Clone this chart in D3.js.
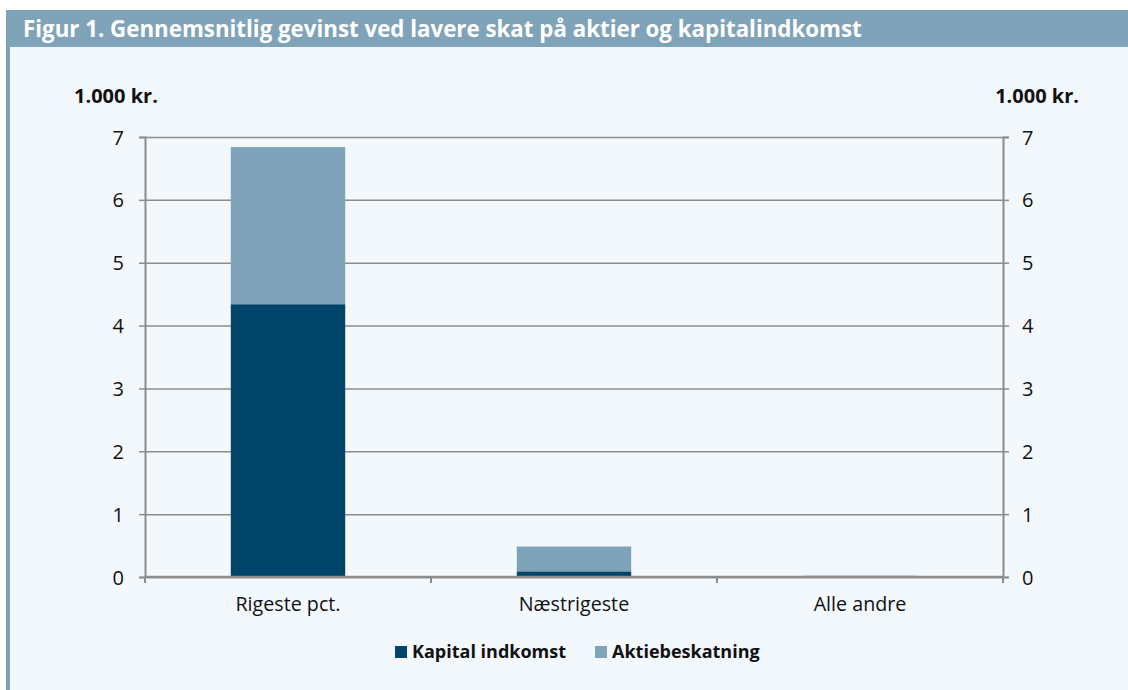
<!DOCTYPE html>
<html>
<head>
<meta charset="utf-8">
<script src="https://cdn.jsdelivr.net/npm/d3@7"></script>
<style>
  body { margin: 0; background: #fff; }
  svg { display: block; font-family: "Open Sans", Lato, sans-serif; }
  .unit { font-size: 20px; font-weight: bold; fill: #111; }
  .legend text { font-size: 18px; font-weight: bold; fill: #111; }
</style>
</head>
<body>
<svg width="1128" height="690"></svg>
<script>
  const categories = ['Rigeste pct.', 'Næstrigeste', 'Alle andre'];
  const kapital = [4.34, 0.09, 0.0];
  const aktie = [2.50, 0.395, 0.02];
  const seriesNames = ['Kapital indkomst', 'Aktiebeskatning'];
  const colors = ['#02456b', '#7fa3b8'];
  const yTicks = [0, 1, 2, 3, 4, 5, 6, 7];
  const title = 'Figur 1. Gennemsnitlig gevinst ved lavere skat på aktier og kapitalindkomst';
  const unitLabel = '1.000 kr.';

  const svg = d3.select('svg');
  const width = +svg.attr('width');
  const height = +svg.attr('height');

  // frame + header bar
  svg.append('rect').attr('x', 6).attr('y', 10).attr('width', width - 6).attr('height', height - 10)
    .attr('fill', '#f3f8fd');
  svg.append('rect').attr('x', 6).attr('y', 10).attr('width', 4).attr('height', height - 10)
    .attr('fill', '#7fa3b8');
  svg.append('rect').attr('x', 6).attr('y', 10).attr('width', width - 6).attr('height', 37)
    .attr('fill', '#7fa3b8');
  svg.append('text').attr('x', 23).attr('y', 37)
    .attr('fill', '#fff').attr('font-size', 22.3).attr('font-weight', 'bold')
    .text(title);

  const margin = {top: 137, right: 125, bottom: 113, left: 145};
  const innerWidth = width - margin.left - margin.right;
  const innerHeight = height - margin.top - margin.bottom;

  const g = svg.append('g').attr('transform', `translate(${margin.left},${margin.top})`);

  const xScale = d3.scaleBand().domain(categories).range([0, innerWidth]).padding(0);
  const yScale = d3.scaleLinear().domain([0, 7]).range([innerHeight, 0]);

  const data = categories.map((c, i) => ({cat: c, kapital: kapital[i], aktie: aktie[i]}));
  const stacked = d3.stack().keys(['kapital', 'aktie'])(data);

  // gridlines
  g.append('g')
    .call(d3.axisLeft(yScale).tickValues(yTicks).tickSize(-innerWidth).tickFormat(''))
    .call(a => a.select('.domain').remove())
    .call(a => a.selectAll('line').attr('stroke', '#8c8c8c').attr('stroke-width', 1.5));

  // bars
  const barW = xScale.bandwidth() * 0.4;
  stacked.forEach((s, k) => {
    g.append('g').selectAll('rect').data(s).join('rect')
      .attr('x', d => xScale(d.data.cat) + (xScale.bandwidth() - barW) / 2)
      .attr('y', d => yScale(d[1]))
      .attr('width', barW)
      .attr('height', d => yScale(d[0]) - yScale(d[1]))
      .attr('fill', colors[k]);
  });

  const styleAxis = a => {
    a.attr('font-size', 20).attr('font-family', null);
    a.select('.domain').attr('stroke', '#8c8c8c').attr('stroke-width', 2);
    a.selectAll('line').attr('stroke', '#8c8c8c').attr('stroke-width', 1.5);
    a.selectAll('text').attr('fill', '#111').attr('dy', null).attr('y', 7);
  };

  // left axis
  g.append('g')
    .call(d3.axisLeft(yScale).tickValues(yTicks).tickFormat(d3.format('d')).tickSize(6).tickPadding(15))
    .call(styleAxis);

  // right axis
  g.append('g').attr('transform', `translate(${innerWidth},0)`)
    .call(d3.axisRight(yScale).tickValues(yTicks).tickFormat(d3.format('d')).tickSize(6).tickPadding(13))
    .call(styleAxis);

  // x axis with boundary ticks
  const xAxisG = g.append('g').attr('transform', `translate(0,${innerHeight})`);
  xAxisG.append('line').attr('x1', 0).attr('x2', innerWidth)
    .attr('stroke', '#8c8c8c').attr('stroke-width', 2.5);
  const bounds = categories.map(c => xScale(c)).concat([innerWidth]);
  xAxisG.selectAll('.btick').data(bounds).join('line')
    .attr('x1', d => d).attr('x2', d => d).attr('y1', 0).attr('y2', 6)
    .attr('stroke', '#8c8c8c').attr('stroke-width', 2);
  xAxisG.selectAll('.xlab').data(categories).join('text')
    .attr('x', d => xScale(d) + xScale.bandwidth() / 2)
    .attr('y', 34)
    .attr('text-anchor', 'middle')
    .attr('font-size', 19.7).attr('fill', '#111')
    .text(d => d);

  // unit labels
  svg.append('text').attr('class', 'unit').attr('x', 74).attr('y', 103).text(unitLabel);
  svg.append('text').attr('class', 'unit').attr('x', 1079).attr('y', 103)
    .attr('text-anchor', 'end').text(unitLabel);

  // legend
  const legend = svg.append('g').attr('class', 'legend');
  const legendX = [395, 595];
  seriesNames.forEach((n, i) => {
    legend.append('rect').attr('x', legendX[i]).attr('y', 646).attr('width', 12).attr('height', 12)
      .attr('fill', colors[i]);
    legend.append('text').attr('x', legendX[i] + 17).attr('y', 658).text(n);
  });
</script>
</body>
</html>
